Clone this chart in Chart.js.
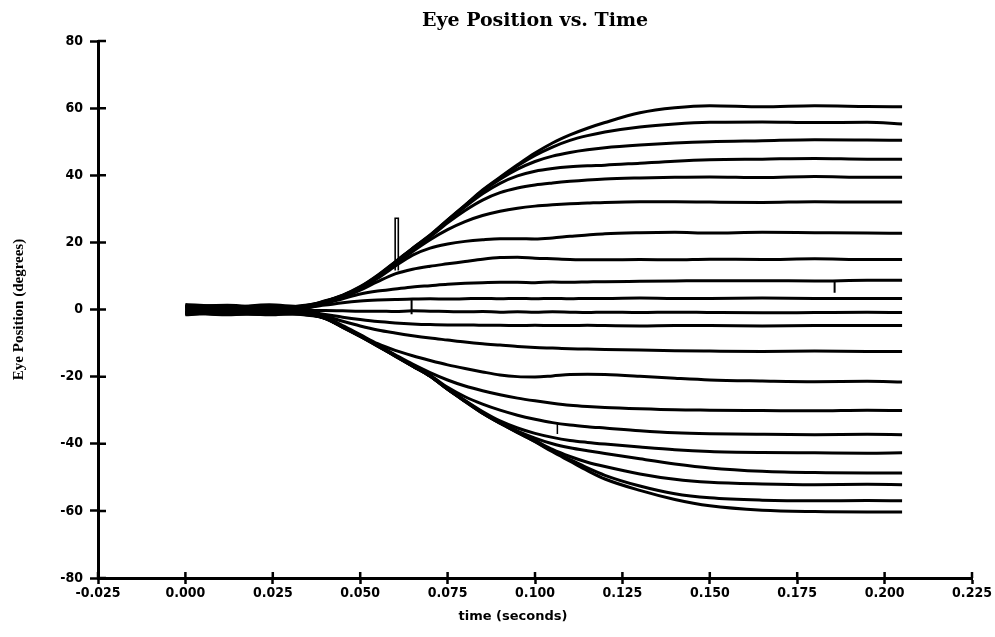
<!DOCTYPE html>
<html>
<head>
<meta charset="utf-8">
<title>Eye Position vs. Time</title>
<script src="https://cdn.jsdelivr.net/npm/chart.js@4/dist/chart.umd.min.js"></script>
<style>
  html, body { margin: 0; padding: 0; background: #fff; }
</style>
</head>
<body>
<canvas id="eyeChart" width="995" height="637"></canvas>
<script>
// sample times (seconds), shared by every trace
const times = [0, 0.012, 0.024, 0.033, 0.04, 0.045, 0.05, 0.055, 0.06, 0.065, 0.07, 0.075, 0.08, 0.085,
    0.09, 0.095, 0.1, 0.105, 0.11, 0.115, 0.12, 0.13, 0.14, 0.15, 0.165, 0.18, 0.195, 0.205];

// eye position (degrees), one trace per target
const up60 = [1.2, 0.6, 1.4, 0.9, 2.6, 4.3, 6.8, 10.2, 14.2, 18.3, 22.2, 26.7, 31.1, 35.6, 39.4, 43.1, 46.6, 49.6, 52.0, 54.0, 55.7, 58.6, 60.1, 60.7, 60.4, 60.7, 60.5, 60.4];
const up55 = [0.8, 1.3, 0.5, 1.0, 2.5, 4.2, 6.7, 10.1, 14.1, 18.2, 22.1, 26.6, 31.0, 35.4, 39.2, 42.8, 45.9, 48.4, 50.4, 51.8, 52.9, 54.4, 55.3, 55.8, 55.9, 55.7, 55.8, 55.3];
const up50 = [1.5, 0.9, 1.1, 0.6, 2.4, 4.1, 6.6, 10.0, 14.0, 18.1, 22.0, 26.5, 30.9, 35.2, 38.8, 41.8, 44.1, 45.7, 46.8, 47.6, 48.2, 49.0, 49.6, 50.0, 50.3, 50.6, 50.5, 50.4];
const up45 = [0.3, 1.0, 0.7, 0.8, 2.3, 4.0, 6.5, 9.9, 13.9, 18.0, 21.9, 26.3, 30.6, 34.5, 37.6, 39.8, 41.2, 42.0, 42.5, 42.8, 43.0, 43.6, 44.2, 44.6, 44.8, 45.0, 44.8, 44.8];
const up39 = [0.9, 0.2, 1.2, 0.5, 2.3, 4.0, 6.4, 9.8, 13.8, 17.8, 21.6, 25.8, 29.5, 32.6, 34.8, 36.2, 37.1, 37.7, 38.2, 38.6, 38.9, 39.2, 39.4, 39.5, 39.3, 39.6, 39.4, 39.4];
const up32 = [0.4, 0.8, 0.2, 1.1, 2.2, 3.9, 6.3, 9.6, 13.5, 17.3, 20.8, 23.8, 26.2, 28.0, 29.3, 30.2, 30.8, 31.2, 31.5, 31.7, 31.9, 32.1, 32.1, 32.0, 31.9, 32.1, 32.0, 32.0];
const up23 = [1.0, 0.4, 0.9, 0.3, 2.1, 3.8, 6.1, 9.3, 12.9, 16.2, 18.3, 19.5, 20.3, 20.8, 21.1, 21.1, 21.0, 21.3, 21.8, 22.2, 22.6, 22.9, 23.0, 22.8, 23.0, 22.9, 22.8, 22.7];
const up15 = [0.6, 1.1, 0.1, 0.7, 2.0, 3.6, 5.8, 8.3, 10.6, 12.0, 12.9, 13.6, 14.3, 15.0, 15.5, 15.6, 15.3, 15.1, 14.9, 14.8, 14.8, 14.9, 14.8, 15.0, 14.9, 15.1, 14.9, 14.9];
const up9 = [0.2, 0.7, 0.6, 0.2, 1.8, 3.2, 4.6, 5.5, 6.1, 6.7, 7.1, 7.5, 7.8, 8.0, 8.1, 8.1, 8.0, 8.2, 8.1, 8.2, 8.3, 8.4, 8.5, 8.6, 8.6, 8.5, 8.7, 8.7];
const up3 = [-0.2, 0.3, -0.1, 0.4, 1.3, 2.0, 2.5, 2.8, 3.0, 3.1, 3.2, 3.1, 3.2, 3.3, 3.2, 3.3, 3.2, 3.3, 3.2, 3.3, 3.3, 3.4, 3.3, 3.3, 3.4, 3.3, 3.3, 3.3];
const down1 = [-0.4, 0.1, -0.6, -0.2, -0.3, -0.4, -0.5, -0.5, -0.6, -0.4, -0.5, -0.6, -0.7, -0.6, -0.8, -0.7, -0.8, -0.7, -0.8, -0.9, -0.8, -0.9, -0.8, -0.9, -1.0, -0.9, -0.8, -0.9];
const down5 = [-0.8, -0.3, -1.0, -0.5, -1.5, -2.3, -3.0, -3.6, -4.0, -4.3, -4.5, -4.6, -4.6, -4.7, -4.7, -4.8, -4.7, -4.8, -4.8, -4.7, -4.8, -4.9, -4.8, -4.8, -4.9, -4.8, -4.8, -4.8];
const down12 = [-1.1, -0.6, -0.4, -0.9, -2.0, -3.5, -4.9, -6.1, -7.0, -7.8, -8.5, -9.1, -9.7, -10.2, -10.6, -11.0, -11.3, -11.5, -11.7, -11.8, -11.9, -12.1, -12.3, -12.4, -12.5, -12.4, -12.5, -12.5];
const down21 = [-0.5, -1.2, -0.8, -0.7, -2.3, -4.8, -7.5, -10.2, -12.2, -13.8, -15.2, -16.5, -17.6, -18.6, -19.5, -20.0, -20.1, -19.8, -19.4, -19.3, -19.4, -19.9, -20.5, -21.0, -21.3, -21.5, -21.4, -21.6];
const down30 = [-1.3, -0.9, -1.4, -1.0, -2.4, -5.0, -7.7, -10.6, -13.5, -16.3, -18.8, -21.0, -22.8, -24.2, -25.4, -26.4, -27.2, -27.9, -28.5, -28.9, -29.2, -29.6, -29.9, -30.0, -30.1, -30.2, -30.0, -30.1];
const down37 = [-0.7, -1.5, -1.1, -1.2, -2.5, -5.1, -7.8, -10.7, -13.7, -16.7, -19.6, -23.2, -26.0, -28.2, -30.0, -31.5, -32.7, -33.7, -34.4, -34.9, -35.3, -36.1, -36.7, -37.0, -37.2, -37.3, -37.2, -37.3];
const down43 = [-1.6, -1.0, -1.3, -1.4, -2.5, -5.1, -7.8, -10.7, -13.7, -16.7, -19.7, -23.6, -27.1, -30.4, -33.2, -35.3, -36.9, -38.1, -39.0, -39.6, -40.1, -41.0, -41.8, -42.3, -42.6, -42.7, -42.8, -42.7];
const down49 = [-0.9, -1.6, -0.7, -1.5, -2.6, -5.2, -7.9, -10.8, -13.8, -16.8, -19.8, -23.7, -27.2, -30.7, -33.6, -36.2, -38.3, -40.0, -41.2, -42.1, -42.9, -44.5, -46.0, -47.2, -48.2, -48.6, -48.7, -48.7];
const down52 = [-1.4, -0.8, -1.6, -1.1, -2.6, -5.2, -7.9, -10.8, -13.8, -16.8, -19.8, -23.7, -27.3, -30.8, -33.8, -36.5, -39.0, -41.7, -43.8, -45.5, -46.8, -49.0, -50.6, -51.5, -52.0, -52.2, -52.1, -52.2];
const down57 = [-1.0, -1.3, -1.5, -0.8, -2.7, -5.3, -8.0, -10.9, -13.9, -16.9, -19.9, -23.8, -27.4, -30.9, -33.9, -36.6, -39.3, -42.1, -44.7, -47.2, -49.4, -52.6, -54.9, -56.1, -56.8, -57.0, -56.9, -57.0];
const down60 = [-1.2, -0.7, -1.0, -1.3, -2.7, -5.3, -8.0, -10.9, -13.9, -16.9, -19.9, -23.8, -27.4, -30.9, -33.9, -36.7, -39.4, -42.4, -45.2, -48.0, -50.5, -53.9, -56.6, -58.5, -59.8, -60.2, -60.3, -60.3];

const traces = [up60, up55, up50, up45, up39, up32, up23, up15, up9, up3,
    down1, down5, down12, down21, down30, down37, down43, down49, down52, down57, down60];

// recording glitches (time, degrees)
const glitchBigT = [0.0600, 0.0600, 0.0609, 0.0609];
const glitchBigY = [11.6, 27.2, 27.2, 11.6];
const glitchUpT = [0.0647, 0.0647];
const glitchUpY = [3.1, -1.4];
const glitchLateT = [0.1857, 0.1857];
const glitchLateY = [8.6, 5.0];
const glitchLowT = [0.1064, 0.1064];
const glitchLowY = [-33.9, -37.1];

// axis ranges / tick steps
const xMin = -0.025, xMax = 0.225, xStep = 0.025;
const yMin = -80, yMax = 80, yStep = 20;

const toPoints = (xs, ys) => xs.map((x, i) => ({ x: x, y: ys[i] }));

const datasets = traces.map(tr => ({
    data: toPoints(times, tr),
    borderColor: '#000',
    borderWidth: 3,
    pointRadius: 0,
    cubicInterpolationMode: 'monotone',
    fill: false
}));

[[glitchBigT, glitchBigY, 1.6], [glitchUpT, glitchUpY, 2], [glitchLateT, glitchLateY, 2], [glitchLowT, glitchLowY, 1.5]]
    .forEach(([xs, ys, w]) => {
        datasets.push({ data: toPoints(xs, ys), borderColor: '#000', borderWidth: w, pointRadius: 0, tension: 0, fill: false });
    });

// ticks in the original cross the axis line, and the x title sits a bit left of centre
const crossTicks = {
    id: 'crossTicks',
    afterDraw(chart) {
        const { ctx, chartArea, scales } = chart;
        ctx.save();
        ctx.strokeStyle = '#000';
        ctx.lineWidth = 2.5;
        ctx.beginPath();
        scales.y.ticks.forEach(t => {
            const y = scales.y.getPixelForValue(t.value);
            ctx.moveTo(chartArea.left, y);
            ctx.lineTo(chartArea.left + 8, y);
        });
        scales.x.ticks.forEach(t => {
            const x = scales.x.getPixelForValue(t.value);
            ctx.moveTo(x, chartArea.bottom);
            ctx.lineTo(x, chartArea.bottom - 6);
        });
        ctx.stroke();

        ctx.fillStyle = '#000';
        ctx.font = 'bold 13px "DejaVu Sans", sans-serif';
        ctx.textAlign = 'center';
        ctx.textBaseline = 'middle';
        ctx.fillText('time (seconds)', (chartArea.left + chartArea.right) / 2 - 22, 617);
        ctx.restore();
    }
};

const tickFont = { family: "'DejaVu Sans Condensed', 'Liberation Sans Narrow', 'DejaVu Sans', sans-serif", size: 14, weight: 'bold' };

new Chart(document.getElementById('eyeChart').getContext('2d'), {
    type: 'line',
    data: { datasets: datasets },
    plugins: [crossTicks],
    options: {
        responsive: false,
        animation: false,
        layout: { padding: { left: 0, right: 23, top: 0, bottom: 0 } },
        plugins: {
            legend: { display: false },
            tooltip: { enabled: false },
            title: {
                display: true,
                fullSize: false,
                text: 'Eye Position vs. Time',
                color: '#000',
                font: { family: "'DejaVu Serif', serif", size: 19, weight: 'bold' },
                padding: { top: 10, bottom: 8.2 }
            }
        },
        scales: {
            x: {
                type: 'linear',
                min: xMin,
                max: xMax,
                afterFit: s => { s.height = 59; s.paddingLeft = 0; s.paddingRight = 0; },
                border: { display: true, color: '#000', width: 3 },
                grid: { drawOnChartArea: false, drawTicks: true, tickLength: 6, tickWidth: 2.5, tickColor: '#000' },
                ticks: {
                    stepSize: xStep,
                    color: '#000',
                    font: tickFont,
                    padding: 1,
                    maxRotation: 0,
                    autoSkip: false,
                    callback: v => (Math.abs(v) < 1e-9 ? 0 : v).toFixed(3)
                },
                title: { display: false }
            },
            y: {
                type: 'linear',
                min: yMin,
                max: yMax,
                afterFit: s => { s.width = 98; s.paddingTop = 0; s.paddingBottom = 0; },
                border: { display: true, color: '#000', width: 3 },
                grid: { drawOnChartArea: false, drawTicks: true, tickLength: 8, tickWidth: 2.5, tickColor: '#000' },
                ticks: {
                    stepSize: yStep,
                    color: '#000',
                    font: tickFont,
                    padding: 7,
                    callback: v => String(Math.round(v))
                },
                title: {
                    display: true,
                    text: 'Eye Position (degrees)',
                    color: '#000',
                    font: { family: "'Liberation Serif', serif", size: 15, weight: 'bold' },
                    padding: { top: 10, bottom: 0 }
                }
            }
        }
    }
});
</script>
</body>
</html>
